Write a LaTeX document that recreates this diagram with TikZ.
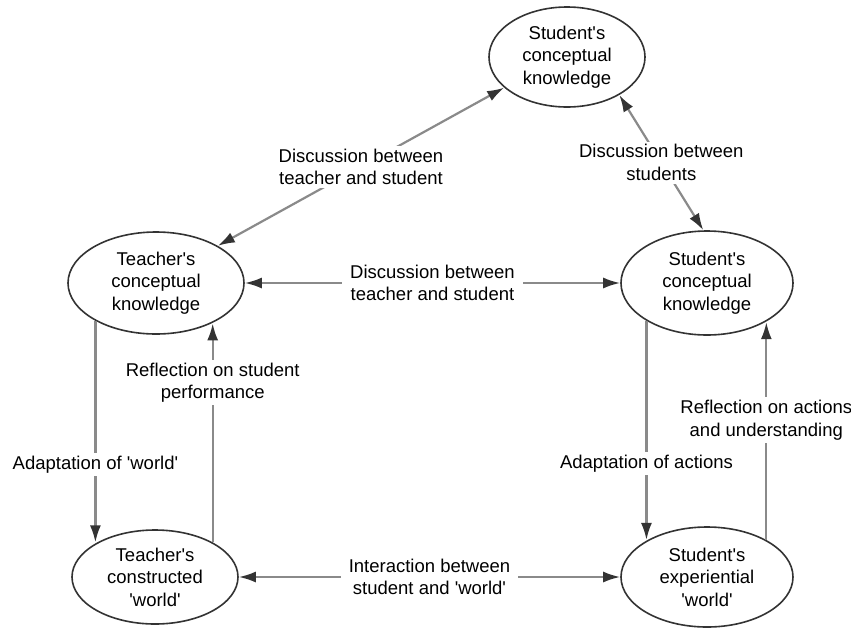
\documentclass[tikz,border=0pt]{standalone}
\usepackage{fontspec}
\setmainfont{Liberation Sans}
\usetikzlibrary{shapes.geometric,arrows.meta}
\definecolor{linegray}{HTML}{8A8A8A}
\definecolor{darkline}{HTML}{333333}
\newcommand{\sq}{\textquotesingle}
\tikzset{
  bubble/.style={ellipse, draw=darkline, line width=1.6pt, inner sep=0pt, align=center,
    font=\fontsize{18.5}{22.5}\selectfont},
  conn/.style={draw=linegray, line width=2.2pt},
  tip/.style={-{Latex[length=17pt,width=11pt,color=darkline]}},
  bitip/.style={{Latex[length=17pt,width=11pt,color=darkline]}-{Latex[length=17pt,width=11pt,color=darkline]}},
  lab/.style={fill=white, align=center, inner xsep=8pt, inner ysep=3pt,
    font=\fontsize{18.5}{22.5}\selectfont, text=black}
}
\begin{document}
\begin{tikzpicture}[x=1pt,y=-1pt]
\useasboundingbox (0,0) rectangle (851,627);
\node[bubble, minimum width=156pt, minimum height=100pt] (top) at (567,57) {Student\sq s\\conceptual\\knowledge};
\node[bubble, minimum width=176pt, minimum height=102pt] (tc) at (156,283) {Teacher\sq s\\conceptual\\knowledge};
\node[bubble, minimum width=172pt, minimum height=104pt] (sc) at (707,283) {Student\sq s\\conceptual\\knowledge};
\node[bubble, minimum width=166pt, minimum height=94pt] (tk) at (155,577) {Teacher\sq s\\constructed\\\sq world\sq};
\node[bubble, minimum width=172pt, minimum height=100pt] (se) at (707,577) {Student\sq s\\experiential\\\sq world\sq};

% top diagonal connectors
\draw[conn, bitip] (tc.31.9) -- (top.206.6) node[lab, midway] {Discussion between\\teacher and student};
\draw[conn, bitip] (top.324.6) -- (sc.94.3) node[lab, midway] {Discussion between\\students};

% horizontal connectors
\draw[conn, bitip] (tc.east) -- (sc.west) node[lab, midway] {Discussion between\\teacher and student};
\draw[conn, bitip] (tk.east) -- (se.west) node[lab, midway] {Interaction between\\student and \sq world\sq};

% left verticals
\draw[conn, tip] (tc.212.6) -- (tc.212.6 |- tk.149.9) node[lab, pos=0.65] {Adaptation of \sq world\sq};
\draw[conn, tip] (tk.31) -- (tk.31 |- tc.324.9) node[lab, pos=0.73] {Reflection on student\\performance};

% right verticals
\draw[conn, tip] (sc.212.7) -- (sc.212.7 |- se.148.3) node[lab, pos=0.65] {Adaptation of actions};
\draw[conn, tip] (se.32.5) -- (se.32.5 |- sc.326.5) node[lab, pos=0.55] {Reflection on actions\\and understanding};
\end{tikzpicture}
\end{document}
